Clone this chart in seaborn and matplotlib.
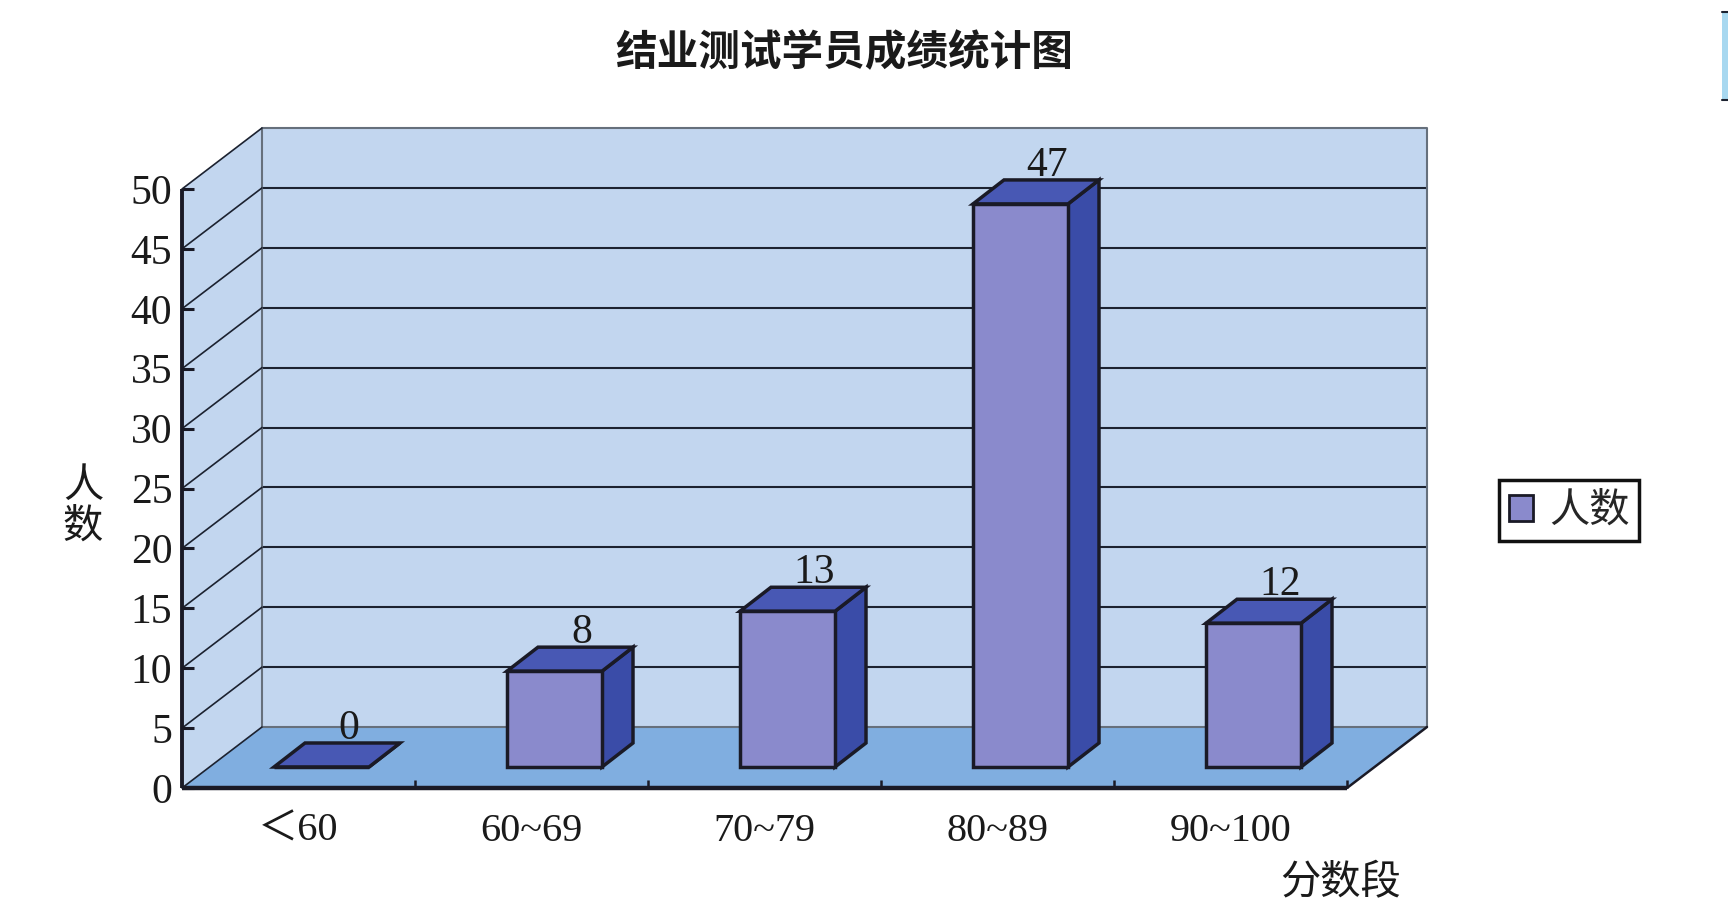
import matplotlib
matplotlib.use('Agg')
import matplotlib.pyplot as plt
import seaborn as sns
import pandas as pd
from matplotlib.patches import Polygon, Rectangle, Patch
from matplotlib.lines import Line2D

# ---------------- data ----------------
categories = ['＜60', '60~69', '70~79', '80~89', '90~100']
counts = [0, 8, 13, 47, 12]
y_ticks = [0, 5, 10, 15, 20, 25, 30, 35, 40, 45, 50]
title = '结业测试学员成绩统计图'
series_name = '人数'
x_title = '分数段'
y_title = '人数'

# ---------------- style ----------------
sns.set_style('white')
plt.rcParams['font.family'] = ['Liberation Serif', 'Noto Sans CJK SC']
CJK = ['Noto Sans CJK SC', 'DejaVu Sans']

FRONT = '#8A8ACC'
SIDE = '#3A4CA8'
TOP = '#4858B4'
EDGE = '#1A1A26'
BACK = '#C2D6EF'
FLOOR = '#80AEE0'
GRID = '#1C2230'
BORDER = '#66707C'
TXT = '#1A1A1A'

W, H = 1728, 921
fig = plt.figure(figsize=(W / 100, H / 100), dpi=100)
PX_L, PX_R, PX_T, PX_B = 182, 1427, 128, 788
ax = fig.add_axes([PX_L / W, 1 - PX_B / H, (PX_R - PX_L) / W, (PX_B - PX_T) / H])

cat_px = 233.0      # pixels per category
unit_px = 11.98     # pixels per count unit
front_dx = 23 / cat_px
front_dy = 21 / unit_px
wall_dx = 80 / cat_px
wall_dy = 61 / unit_px
bar_ddx = 31 / cat_px
bar_ddy = 24 / unit_px
bar_w = 95 / cat_px

df = pd.DataFrame({x_title: categories, y_title: counts})
sns.barplot(data=df, x=x_title, y=y_title, ax=ax, width=bar_w, color=FRONT,
            saturation=1, edgecolor=EDGE, linewidth=2.5, bottom=front_dy,
            errorbar=None, zorder=4)
bars = list(ax.patches)

x0 = -0.5 - front_dx
x_end = len(categories) - 0.5 - front_dx
ymax_tick = y_ticks[-1]
ax.set_xlim(x0, x0 + (PX_R - PX_L) / cat_px)
ax.set_ylim(0, (PX_B - PX_T) / unit_px)

# walls and floor
ax.add_patch(Polygon([(x0 + wall_dx, wall_dy), (x_end + wall_dx, wall_dy),
                      (x_end + wall_dx, ymax_tick + wall_dy), (x0 + wall_dx, ymax_tick + wall_dy)],
                     closed=True, facecolor=BACK, edgecolor='none', zorder=0))
ax.add_patch(Polygon([(x0, 0), (x0, ymax_tick), (x0 + wall_dx, ymax_tick + wall_dy),
                      (x0 + wall_dx, wall_dy)],
                     closed=True, facecolor=BACK, edgecolor='none', zorder=0))
ax.add_patch(Polygon([(x0, 0), (x_end, 0), (x_end + wall_dx, wall_dy), (x0 + wall_dx, wall_dy)],
                     closed=True, facecolor=FLOOR, edgecolor='none', zorder=0.5))

# gridlines on back wall and diagonals on side wall
for v in y_ticks:
    if 0 < v < ymax_tick:
        ax.plot([x0 + wall_dx, x_end + wall_dx], [v + wall_dy, v + wall_dy],
                color=GRID, lw=1.5, zorder=1, clip_on=False)
    ax.plot([x0, x0 + wall_dx], [v, v + wall_dy], color=GRID, lw=1.2, zorder=1.2, clip_on=False)

# back wall border
ax.plot([x0 + wall_dx, x0 + wall_dx, x_end + wall_dx, x_end + wall_dx, x0 + wall_dx],
        [wall_dy, ymax_tick + wall_dy, ymax_tick + wall_dy, wall_dy, wall_dy],
        color=BORDER, lw=1.5, zorder=1.1, clip_on=False)

# front axes
ax.plot([x0, x0], [0, ymax_tick], color=EDGE, lw=2.8, zorder=6, clip_on=False, solid_capstyle='butt')
ax.plot([x0, x_end], [0, 0], color=EDGE, lw=3.2, zorder=6, clip_on=False, solid_capstyle='butt')
ax.plot([x_end, x_end + wall_dx], [0, wall_dy], color=EDGE, lw=1.8, zorder=1.2, clip_on=False)

# 3D sides / tops of bars
for rect, val in zip(bars, counts):
    x = rect.get_x()
    w = rect.get_width()
    b = rect.get_y()
    t = b + rect.get_height()
    side = [(x + w, b), (x + w + bar_ddx, b + bar_ddy), (x + w + bar_ddx, t + bar_ddy), (x + w, t)]
    top = [(x, t), (x + bar_ddx, t + bar_ddy), (x + w + bar_ddx, t + bar_ddy), (x + w, t)]
    ax.add_patch(Polygon(side, closed=True, facecolor=SIDE, edgecolor=EDGE, lw=2.5,
                         joinstyle='miter', zorder=3))
    ax.add_patch(Polygon(top, closed=True, facecolor=TOP, edgecolor=EDGE, lw=2.5,
                         joinstyle='miter', zorder=3))
    ax.text(x + w / 2 + 27 / cat_px, t + bar_ddy + 0.35, str(val), ha='center', va='baseline',
            fontsize=30, color=TXT, family='Liberation Serif', zorder=7)

# ticks
ax.set_yticks(y_ticks)
ax.set_yticklabels([str(v) for v in y_ticks])
ax.tick_params(axis='y', direction='in', length=8.6, width=2.2, pad=7, labelsize=30,
               color=EDGE, labelcolor=TXT, left=True)
ax.set_xticks([i - front_dx for i in range(len(categories))])
ax.set_xticklabels(categories)
ax.tick_params(axis='x', which='major', length=0, pad=18, labelsize=29, labelcolor=TXT)
ax.set_xticks([x0 + k for k in range(1, len(categories) + 1)], minor=True)
ax.tick_params(axis='x', which='minor', direction='in', length=6, width=1.8, color=EDGE, bottom=True)
ax.set_xlabel('')
ax.set_ylabel('')
for s in ax.spines.values():
    s.set_visible(False)
ax.patch.set_visible(False)

# titles
fig.text(844 / W, 1 - 52 / H, title, ha='center', va='center', fontsize=30,
         weight='bold', family=CJK, color=TXT)
fig.text(83 / W, 1 - 506 / H, '\n'.join(y_title), ha='center', va='center', fontsize=29,
         family=CJK, color=TXT, linespacing=1.0)
fig.text(1341 / W, 1 - 883 / H, x_title, ha='center', va='center', fontsize=29,
         family=CJK, color=TXT)

# legend
leg = fig.legend(handles=[Patch(facecolor=FRONT, edgecolor=EDGE, linewidth=2, label=series_name)],
                 loc='center', bbox_to_anchor=(1569 / W, 1 - 510.5 / H), frameon=True,
                 fancybox=False, edgecolor='#111111', framealpha=1,
                 prop={'family': CJK, 'size': 29}, handlelength=0.6, handleheight=0.6,
                 handletextpad=0.4, borderpad=0.25, borderaxespad=0)
leg.get_frame().set_linewidth(2.5)

# small strip at top-right edge
fig.patches.append(Rectangle((1722 / W, 1 - 100 / H), 6 / W, 88 / H, transform=fig.transFigure,
                             facecolor='#A8D8F0', edgecolor='none', zorder=0))
fig.lines.append(Line2D([1722 / W, 1], [1 - 12 / H, 1 - 12 / H], transform=fig.transFigure,
                        color=GRID, lw=1.5))
fig.lines.append(Line2D([1722 / W, 1], [1 - 100 / H, 1 - 100 / H], transform=fig.transFigure,
                        color=GRID, lw=1.5))

fig.savefig('out.png', dpi=100)
